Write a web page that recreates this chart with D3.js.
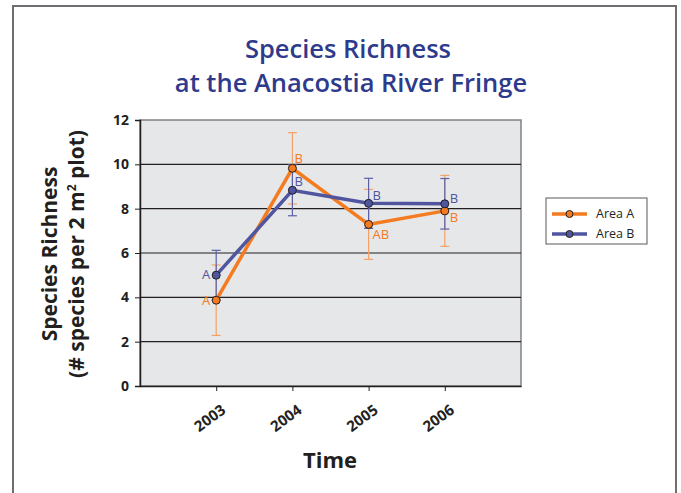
<!DOCTYPE html>
<html>
<head>
<meta charset="utf-8">
<script src="https://cdn.jsdelivr.net/npm/d3@7"></script>
<style>
  html, body { margin: 0; padding: 0; background: #fff; }
  svg { display: block; font-family: "Open Sans", "Noto Sans", sans-serif; }
</style>
</head>
<body>
<div id="chart"></div>
<script>
// values
const years = ["2003", "2004", "2005", "2006"];
const areaA = [3.87, 9.82, 7.29, 7.90];
const areaAErr = [1.59, 1.61, 1.58, 1.60];
const areaB = [5.00, 8.83, 8.24, 8.22];
const areaBErr = [1.12, 1.15, 1.13, 1.14];
const lettersA = ["A", "B", "AB", "B"];
const lettersB = ["A", "B", "B", "B"];
const yTicks = [0, 2, 4, 6, 8, 10, 12];
const seriesNames = ["Area A", "Area B"];

const W = 681, H = 493;
const plot = {left: 140, right: 521, top: 120, bottom: 386};
const orange = "#f47b20", blue = "#4f559f";

// letter offsets (style, not data)
const letterOffA = [[-6, 5, "end"], [2, -5, "start"], [4, 15, "start"], [5, 11, "start"]];
const letterOffB = [[-6, 4, "end"], [2, -4, "start"], [4, -3, "start"], [5, -1, "start"]];

const svg = d3.select("#chart").append("svg")
  .attr("width", W).attr("height", H);

// outer frame
svg.append("rect")
  .attr("x", 13).attr("y", 6).attr("width", 663).attr("height", H + 10)
  .attr("fill", "#fff").attr("stroke", "#6d6e71").attr("stroke-width", 2);

// title
const title = svg.append("text")
  .attr("x", 343).attr("text-anchor", "middle")
  .attr("fill", "#2e3a8c").attr("font-weight", 600).attr("font-size", 25.5);
title.append("tspan").attr("x", 348).attr("y", 58).text("Species Richness");
title.append("tspan").attr("x", 351).attr("y", 92).text("at the Anacostia River Fringe");

// scales: categories sit at 1..4 on a 0..5 axis
const x = d3.scaleLinear().domain([-1, years.length]).range([plot.left, plot.right]);
const y = d3.scaleLinear().domain([0, 12]).range([plot.bottom, plot.top]);

// plot background
svg.append("rect")
  .attr("x", plot.left).attr("y", plot.top)
  .attr("width", plot.right - plot.left).attr("height", plot.bottom - plot.top)
  .attr("fill", "#e6e7e8").attr("stroke", "#808285").attr("stroke-width", 1.5);

// grid lines
svg.append("g").selectAll("line")
  .data(yTicks.filter(d => d > 0 && d < 12))
  .join("line")
  .attr("x1", plot.left).attr("x2", plot.right)
  .attr("y1", d => y(d)).attr("y2", d => y(d))
  .attr("stroke", "#231f20").attr("stroke-width", 1.2);

// y axis
const yAxis = svg.append("g")
  .attr("transform", `translate(${plot.left},0)`)
  .call(d3.axisLeft(y).tickValues(yTicks).tickSize(5).tickPadding(6));
yAxis.select(".domain").attr("stroke", "#231f20").attr("stroke-width", 1.5);
yAxis.selectAll(".tick line").attr("stroke", "#231f20");
yAxis.selectAll("text")
  .attr("font-family", "'Open Sans', sans-serif")
  .attr("font-size", 14).attr("font-weight", 700).attr("fill", "#231f20");

// x axis
const xAxis = svg.append("g")
  .attr("transform", `translate(0,${plot.bottom})`)
  .call(d3.axisBottom(x).tickValues(d3.range(years.length))
    .tickFormat(i => years[i]).tickSize(5).tickSizeOuter(0));
xAxis.select(".domain").attr("stroke", "#231f20").attr("stroke-width", 1.5);
xAxis.selectAll(".tick line").attr("stroke", "#231f20");
xAxis.selectAll("text")
  .attr("font-family", "'Open Sans', sans-serif")
  .attr("font-size", 15).attr("font-weight", 700).attr("fill", "#231f20")
  .attr("text-anchor", "end")
  .attr("transform", "translate(7,22) rotate(-36)")
  .attr("dy", "0.35em").attr("y", 0);

// axis titles
svg.append("text")
  .attr("x", 330).attr("y", 468).attr("text-anchor", "middle")
  .attr("font-size", 22).attr("font-weight", 700).attr("fill", "#231f20")
  .text("Time");

const yt = svg.append("text")
  .attr("transform", "translate(0,254) rotate(-90)")
  .attr("text-anchor", "middle")
  .attr("font-size", 21).attr("font-weight", 700).attr("fill", "#231f20");
yt.append("tspan").attr("x", 0).attr("y", 57).text("Species Richness");
const l2 = yt.append("tspan").attr("x", 0).attr("y", 84);
l2.append("tspan").text("(# species per 2  m");
l2.append("tspan").attr("dy", -8).attr("font-size", 12).text("2");
l2.append("tspan").attr("dy", 8).text(" plot)");

// series
const series = [
  {name: seriesNames[0], values: areaA, err: areaAErr, letters: lettersA, off: letterOffA, color: orange, errColor: "#f6a266"},
  {name: seriesNames[1], values: areaB, err: areaBErr, letters: lettersB, off: letterOffB, color: blue, errColor: "#5b60a8"}
];

const line = d3.line().x((d, i) => x(i)).y(d => y(d));

series.forEach(s => {
  const g = svg.append("g");
  // error bars
  const eb = g.append("g").selectAll("g")
    .data(s.values.map((v, i) => ({i, v, e: s.err[i]})))
    .join("g").attr("stroke", s.errColor).attr("stroke-width", 1.2);
  eb.append("line")
    .attr("x1", d => x(d.i)).attr("x2", d => x(d.i))
    .attr("y1", d => y(d.v - d.e)).attr("y2", d => y(d.v + d.e));
  eb.append("line")
    .attr("x1", d => x(d.i) - 4.5).attr("x2", d => x(d.i) + 4.5)
    .attr("y1", d => y(d.v + d.e)).attr("y2", d => y(d.v + d.e));
  eb.append("line")
    .attr("x1", d => x(d.i) - 4.5).attr("x2", d => x(d.i) + 4.5)
    .attr("y1", d => y(d.v - d.e)).attr("y2", d => y(d.v - d.e));
});

series.forEach(s => {
  const g = svg.append("g");
  g.append("path").datum(s.values)
    .attr("d", line).attr("fill", "none")
    .attr("stroke", s.color).attr("stroke-width", 3.5)
    .attr("stroke-linejoin", "miter");
  g.selectAll("circle").data(s.values).join("circle")
    .attr("cx", (d, i) => x(i)).attr("cy", d => y(d)).attr("r", 4)
    .attr("fill", s.color).attr("stroke", "#231f20").attr("stroke-width", 1);
  g.selectAll("text").data(s.values).join("text")
    .attr("x", (d, i) => x(i) + s.off[i][0])
    .attr("y", (d, i) => y(d) + s.off[i][1])
    .attr("text-anchor", (d, i) => s.off[i][2])
    .attr("font-size", 13).attr("fill", s.color)
    .text((d, i) => s.letters[i]);
});

// legend
const lg = svg.append("g").attr("transform", "translate(546,198)");
lg.append("rect").attr("width", 101).attr("height", 46)
  .attr("fill", "#fff").attr("stroke", "#58595b").attr("stroke-width", 1);
series.forEach((s, i) => {
  const row = lg.append("g").attr("transform", `translate(0,${16 + i * 20})`);
  row.append("line").attr("x1", 6).attr("x2", 41)
    .attr("stroke", s.color).attr("stroke-width", 3.5);
  row.append("circle").attr("cx", 23.5).attr("r", 3.5)
    .attr("fill", s.color).attr("stroke", "#231f20").attr("stroke-width", 1);
  row.append("text").attr("x", 50).attr("dy", "0.35em")
    .attr("font-size", 12.5).attr("fill", "#231f20").text(s.name);
});
</script>
</body>
</html>
